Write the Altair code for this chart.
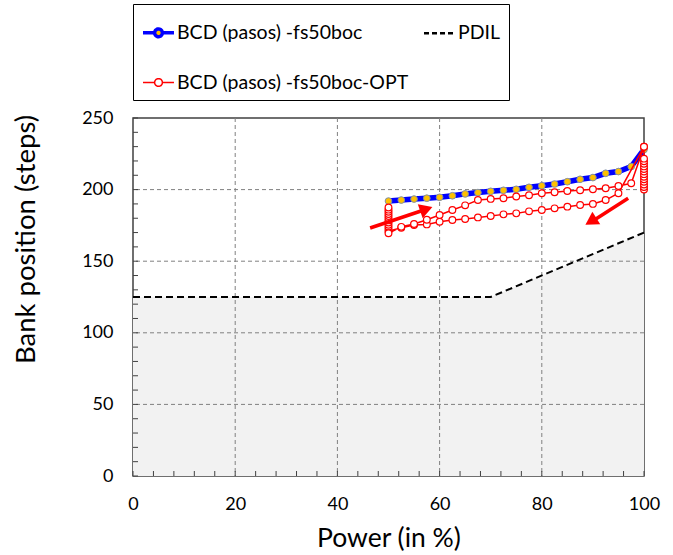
import altair as alt
import pandas as pd

S_BLUE = "BCD (pasos) -fs50boc"
S_PDIL = "PDIL"
S_RED = "BCD (pasos) -fs50boc-OPT"
SERIES = [S_BLUE, S_PDIL, S_RED]

# Blue series (fs50boc)
blue_power = [50, 52.5, 55, 57.5, 60, 62.5, 65, 67.5, 70, 72.5, 75, 77.5, 80,
              82.5, 85, 87.5, 90, 92.5, 95, 97.5, 100]
blue_steps = [192, 192.7, 193.4, 194, 194.6, 195.7, 197, 197.9, 198.8, 199.5,
              200.2, 201.6, 202.7, 203.9, 205.5, 207.2, 208.4, 211.4, 212.6,
              216.1, 228]

# PDIL limit
pdil_power = [0, 70, 100]
pdil_steps = [125, 125, 170]

# Red series (fs50boc-OPT): stack at 100, descent, stack at 50, ascent
red_power = [100, 100, 100, 100, 100, 100, 100, 100, 100, 100, 100, 100, 100,
             100,
             95, 92.5, 90, 87.5, 85, 82.5, 80, 77.5, 75, 72.5, 70, 67.5, 65,
             62.5, 60, 57.5, 55, 52.5, 50,
             50, 50, 50, 50, 50, 50, 50, 50, 50, 50, 50, 50,
             52.5, 55, 57.5, 60, 62.5, 65, 67.5, 70, 72.5, 75, 77.5, 80, 82.5,
             85, 87.5, 90, 92.5, 95, 97.5, 100]
red_steps = [200, 201.8, 203.6, 205.4, 207.2, 209, 210.8, 212.6, 214.4, 216.2,
             218, 219.8, 221.6,
             230,
             197.5, 192.7, 190, 189.2, 188.1, 186.9, 185.8, 184.8, 183.4, 182.7,
             181.6, 180.6, 179.5, 178.8, 177.6, 175.7, 175.3, 173.4, 171,
             172.5, 174, 175.5, 177, 178.5, 180, 181.5, 183, 184.5, 186, 187.5,
             169.5,
             174, 176, 179, 182.3, 185.8, 189, 192.7, 193.5, 194, 195.2, 196,
             197.4, 198.1, 199, 199.5, 200.2, 200.9, 202.5, 204.4, 230]

# Grid, minor ticks, tick labels
grid_power = [20, 40, 60, 80]
grid_steps = [50, 100, 150, 200]
minor_power = list(range(0, 101, 4))
minor_steps = list(range(0, 251, 10))
x_labels = [0, 20, 40, 60, 80, 100]
y_labels = [0, 50, 100, 150, 200, 250]

# Arrows
arrow_id = [1, 1, 2, 2]
arrow_power = [46.4, 56.8, 96.9, 90.2]
arrow_steps = [173.2, 185.6, 193.9, 178.6]
head_power = [57.4, 89.6]
head_steps = [186.4, 177.8]
head_angle = [71, 238]

W, H = 511, 358
FONT = "Lato"

blue_df = pd.DataFrame({"power": blue_power, "steps": blue_steps,
                        "order": range(len(blue_power))})
red_df = pd.DataFrame({"power": red_power, "steps": red_steps,
                       "order": range(len(red_power))})
pdil_df = pd.DataFrame({"power": pdil_power, "steps": pdil_steps})
gx_df = pd.DataFrame({"power": grid_power})
gy_df = pd.DataFrame({"steps": grid_steps})
mx_df = pd.DataFrame({"power": minor_power})
my_df = pd.DataFrame({"steps": minor_steps})
arrow_df = pd.DataFrame({"id": arrow_id, "power": arrow_power, "steps": arrow_steps})
head_df = pd.DataFrame({"power": head_power, "steps": head_steps, "angle": head_angle})
legend_df = pd.DataFrame({"series": SERIES})

x_scale = alt.Scale(domain=[0, 100], nice=False, zero=False)
y_scale = alt.Scale(domain=[0, 250], nice=False, zero=False)

x_axis = alt.Axis(values=x_labels, grid=False, ticks=False, domain=False,
                  labelFlush=False,
                  labelFont=FONT, labelFontSize=18, labelColor="black",
                  labelPadding=19, title="Power (in %)", titleFont=FONT,
                  titleFontSize=26.5, titleFontWeight="normal", titleColor="black",
                  titlePadding=12)
y_axis = alt.Axis(values=y_labels, grid=False, ticks=False, domain=False,
                  labelFlush=False,
                  labelFont=FONT, labelFontSize=18, labelColor="black",
                  labelPadding=20, title="Bank position (steps)", titleFont=FONT,
                  titleFontSize=27.5, titleFontWeight="normal", titleColor="black",
                  titleX=-93, titleY=121)


def X(field="power"):
    return alt.X(f"{field}:Q", scale=x_scale, axis=x_axis)


def Y(field="steps"):
    return alt.Y(f"{field}:Q", scale=y_scale, axis=y_axis)


area = alt.Chart(pdil_df).mark_area(color="#F2F2F2").encode(x=X(), y=Y())

grid_x = alt.Chart(gx_df).mark_rule(color="#808080", strokeWidth=1,
                                     strokeDash=[4, 3]).encode(x=X())
grid_y = alt.Chart(gy_df).mark_rule(color="#808080", strokeWidth=1,
                                     strokeDash=[4, 3]).encode(y=Y())

ticks_x = alt.Chart(mx_df).mark_rule(color="#404040", strokeWidth=1).encode(
    x=X(), y=alt.value(H), y2=alt.value(H - 5))
ticks_y = alt.Chart(my_df).mark_rule(color="#404040", strokeWidth=1).encode(
    y=Y(), x=alt.value(0), x2=alt.value(5))

pdil_line = alt.Chart(pdil_df).mark_line(
    color="black", strokeWidth=2, strokeDash=[7, 4]).encode(x=X(), y=Y())
blue_line = alt.Chart(blue_df).mark_line(
    color="#0000FF", strokeWidth=5.5).encode(x=X(), y=Y(), order="order:Q")
red_line = alt.Chart(red_df).mark_line(
    color="#FF0000", strokeWidth=1.5).encode(x=X(), y=Y(), order="order:Q")

blue_pts = alt.Chart(blue_df).mark_point(
    shape="circle", filled=True, fill="#FFC000", stroke="#7F8FA6",
    strokeWidth=1, size=45, opacity=1).encode(x=X(), y=Y())
red_pts = alt.Chart(red_df).mark_point(
    shape="circle", filled=True, fill="white", stroke="#FF0000",
    strokeWidth=1.2, size=45, opacity=1).encode(x=X(), y=Y())

shafts = alt.Chart(arrow_df).mark_line(color="#FF0000", strokeWidth=3.5).encode(
    x=X(), y=Y(), detail="id:N")
heads = alt.Chart(head_df).mark_point(
    shape="triangle-up", filled=True, color="#FF0000", size=220, opacity=1
).encode(x=X(), y=Y(), angle=alt.Angle("angle:Q", scale=None))

# Legend (symbols: line with a marker in the middle)
MARKER_PATH = ("M-1,0L-0.25,0M0.25,0L1,0M-0.25,0A0.25,0.25,0,1,1,0.25,0"
               "A0.25,0.25,0,1,1,-0.25,0Z")
LINE_PATH = "M-1,0L1,0"
legend = alt.Legend(
    orient="none", legendX=0, legendY=-114, columns=2, direction="horizontal",
    title=" ", titleFontSize=1, titlePadding=2,
    strokeColor="black", fillColor="white", padding=8,
    labelFont=FONT, labelFontSize=19.5, labelColor="black", labelLimit=0,
    labelOffset=1,
    labelExpr="datum.value === 'PDIL' ? 'PDIL                                                            ' : datum.label",
    symbolSize=960, symbolOpacity=1,
    rowPadding=22, columnPadding=10,
)
legend_layer = alt.Chart(legend_df).mark_point(
    clip=True, filled=True, opacity=1, size=960
).encode(
    x=alt.value(-1000), y=alt.value(-1000),
    shape=alt.Shape("series:N", scale=alt.Scale(
        domain=SERIES, range=[MARKER_PATH, LINE_PATH, MARKER_PATH]), legend=legend),
    fill=alt.Fill("series:N", scale=alt.Scale(
        domain=SERIES, range=["#FFC000", "transparent", "white"]), legend=legend),
    stroke=alt.Stroke("series:N", scale=alt.Scale(
        domain=SERIES, range=["#0000FF", "black", "#FF0000"]), legend=legend),
    strokeDash=alt.StrokeDash("series:N", scale=alt.Scale(
        domain=SERIES, range=[[1, 0], [5, 3], [1, 0]]), legend=legend),
    strokeWidth=alt.StrokeWidth("series:N", scale=alt.Scale(
        domain=SERIES, range=[3.5, 1.5]), legend=legend),
)

chart = alt.layer(
    area, grid_x, grid_y, ticks_x, ticks_y, pdil_line, blue_line, blue_pts,
    red_line, red_pts, shafts, heads, legend_layer
).properties(
    width=W, height=H, background="white",
    autosize=alt.AutoSizeParams(type="none"),
    padding={"left": 133, "top": 118, "right": 29, "bottom": 79},
).configure_view(stroke="#404040", strokeWidth=1.5)

chart.save("out.html", embed_options={"renderer": "svg", "actions": False})
